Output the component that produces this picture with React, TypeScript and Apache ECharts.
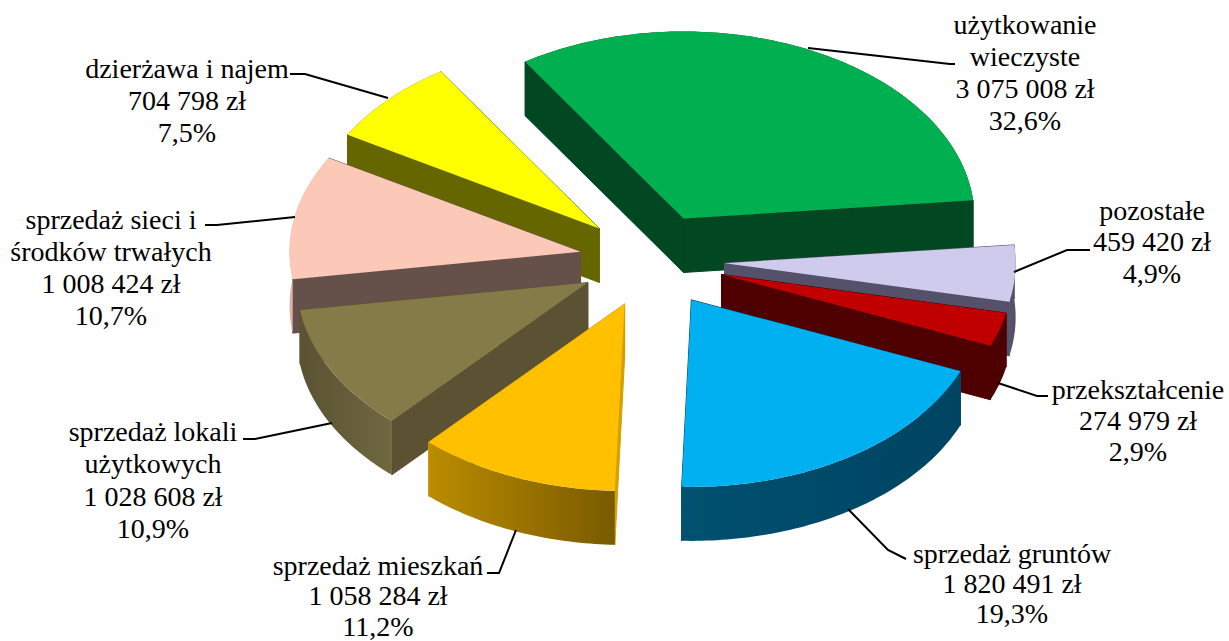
import React, { useEffect, useRef } from "react";
import * as echarts from "echarts";

const labelLines = [
  ["użytkowanie", "wieczyste"],
  ["pozostałe"],
  ["przekształcenie"],
  ["sprzedaż gruntów"],
  ["sprzedaż mieszkań"],
  ["sprzedaż lokali", "użytkowych"],
  ["sprzedaż sieci i", "środków trwałych"],
  ["dzierżawa i najem"],
];
const amounts = [3075008, 459420, 274979, 1820491, 1058284, 1028608, 1008424, 704798];
const amountLabels = ["3 075 008 zł", "459 420 zł", "274 979 zł", "1 820 491 zł", "1 058 284 zł", "1 028 608 zł", "1 008 424 zł", "704 798 zł"];
const percentLabels = ["32,6%", "4,9%", "2,9%", "19,3%", "11,2%", "10,9%", "10,7%", "7,5%"];

const topColors = ["#00b050", "#cfcbec", "#c00000", "#00b0f0", "#ffc000", "#847b48", "#fcc8b8", "#ffff00"];
const wallColors = ["#004722", "#55516a", "#4e0000", "#004664", "#d6a000", "#5a5232", "#66504a", "#666600"];
const rimColors = [
  ["#004722", "#004722"],
  ["#55516a", "#55516a"],
  ["#4e0000", "#4e0000"],
  ["#005070", "#004462"],
  ["#bb8c00", "#795b00"],
  ["#5a5232", "#6f6840"],
  ["#e0b2a4", "#c8a090"],
  ["#666600", "#666600"],
];

// layout of the drawing
const CX = 652;
const CY = 260.6;
const RX = 291;
const RY = 187;
const EXPLODE = 0.25;
const DEPTH = 54;
const START_DEG = -33;

const labelCenters = [
  [1025, 24], [1152, 210], [1138, 389], [1012, 553], [378, 565], [153, 431], [111, 219], [187, 68],
];
const lineHeights = [32, 31.5, 31, 30, 30.5, 32.5, 32, 32];
const leaders = [
  [[808, 48], [950, 64], [955, 64]],
  [[1014, 272], [1067, 250], [1090, 250]],
  [[998, 383], [1037, 396], [1048, 396]],
  [[848, 509], [888, 550], [906, 559]],
  [[516, 530], [499, 573], [487, 573]],
  [[332, 423], [255, 439], [243, 439]],
  [[295, 217], [217, 225], [205, 225]],
  [[388, 98], [305, 74], [290, 74]],
];

const total = amounts.reduce((a, b) => a + b, 0);
const rad = (d: number) => (d * Math.PI) / 180;

function sliceGeometry(i: number) {
  const before = amounts.slice(0, i).reduce((a, b) => a + b, 0);
  const a0 = START_DEG + (before / total) * 360;
  const a1 = a0 + (amounts[i] / total) * 360;
  const mid = rad((a0 + a1) / 2);
  const ox = CX + EXPLODE * RX * Math.sin(mid);
  const oy = CY - EXPLODE * RY * Math.cos(mid);
  return { a0, a1, ox, oy };
}

const drawRank = amounts
  .map((_, i) => ({ i, y: sliceGeometry(i).oy }))
  .sort((p, q) => p.y - q.y)
  .reduce((acc: number[], p, r) => {
    acc[p.i] = r;
    return acc;
  }, []);

function renderSlice(params: any, api: any) {
  const i = params.dataIndex;
  const { a0, a1, ox, oy } = sliceGeometry(i);
  const rim: number[][] = [];
  const steps = Math.max(2, Math.ceil(a1 - a0));
  for (let k = 0; k <= steps; k++) {
    const t = rad(a0 + ((a1 - a0) * k) / steps);
    rim.push([ox + RX * Math.sin(t), oy - RY * Math.cos(t)]);
  }
  const low = (p: number[]) => [p[0], p[1] + DEPTH];
  const first = rim[0];
  const last = rim[rim.length - 1];
  const z = drawRank[i] * 10 + 10;
  const wall = wallColors[i];
  const face = (pts: number[][], fill: any, k: number, stroke?: string) => ({
    type: "polygon",
    z2: z + k,
    shape: { points: pts },
    style: { fill, stroke: stroke ?? "none", lineWidth: stroke ? 1 : 0 },
    silent: true,
  });
  const rimGrad = new echarts.graphic.LinearGradient(0, 0, 1, 0, [
    { offset: 0, color: rimColors[i][0] },
    { offset: 1, color: rimColors[i][1] },
  ]);
  return {
    type: "group",
    children: [
      face([[ox, oy], first, low(first), [ox, oy + DEPTH]], wall, 0, wall),
      face([[ox, oy], last, low(last), [ox, oy + DEPTH]], wall, 1, wall),
      face([...rim, ...rim.slice().reverse().map(low)], rimGrad, 2),
      face([[ox, oy], ...rim], topColors[i], 3),
    ],
  };
}

export default function App() {
  const ref = useRef<HTMLDivElement>(null);
  useEffect(() => {
    document.body.style.margin = "0";
    const chart = echarts.init(ref.current!, undefined, { renderer: "svg" });
    const texts: any[] = [];
    labelLines.forEach((name, i) => {
      const lines = [...name, amountLabels[i], percentLabels[i]];
      lines.forEach((line, k) => {
        texts.push({
          type: "text",
          x: labelCenters[i][0],
          y: labelCenters[i][1] + k * lineHeights[i],
          z: 100,
          style: {
            text: line,
            fill: "#000",
            font: '28px "Liberation Serif"',
            textAlign: "center",
            textVerticalAlign: "middle",
          },
        });
      });
    });
    const lines = leaders.map((points) => ({
      type: "polyline",
      z: 90,
      shape: { points },
      style: { stroke: "#000", lineWidth: 2, fill: "none" },
    }));
    chart.setOption({
      animation: false,
      backgroundColor: "#fff",
      graphic: { elements: [...lines, ...texts] },
      series: [
        {
          type: "custom",
          coordinateSystem: "none",
          renderItem: renderSlice,
          data: amounts.map((v, i) => ({ name: labelLines[i].join(" "), value: v })),
        },
      ],
    });
    return () => chart.dispose();
  }, []);
  return <div ref={ref} style={{ width: 1229, height: 641 }} />;
}
